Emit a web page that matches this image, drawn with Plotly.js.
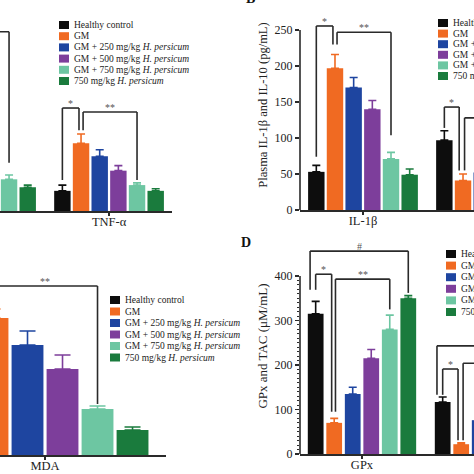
<!DOCTYPE html>
<html><head><meta charset="utf-8">
<script src="https://cdn.plot.ly/plotly-3.0.1.min.js"></script>
<style>html,body{margin:0;padding:0;background:#fff;overflow:hidden}#chart{width:474px;height:474px}</style>
</head><body><div id="chart"></div>
<script>
// ---------- data ----------
const seriesNames = ['Healthy control', 'GM', 'GM + 250 mg/kg <i>H. persicum</i>', 'GM + 500 mg/kg <i>H. persicum</i>', 'GM + 750 mg/kg <i>H. persicum</i>', '750 mg/kg <i>H. persicum</i>'];

// Panel A (left part cropped; first group label not visible)
const categoriesA = ['(cropped)', 'TNF-α'];
const valuesA = [[null, 28], [null, 94], [null, 76], [null, 56], [44, 36], [33, 28]];
const errorsA = [[null, 8], [null, 13], [null, 9], [null, 7], [6, 3], [3, 3]];

// Panel B
const categoriesB = ['IL-1β', 'IL-10'];
const valuesB = [[53, 97], [197, 41], [170, 52], [140, null], [71, null], [49, null]];
const errorsB = [[9, 13], [19, 9], [14, 6], [12, null], [9, null], [8, null]];
const ticksB = [0, 50, 100, 150, 200, 250];

// Panel C (left part cropped)
const categoriesC = ['MDA'];
const valuesC = [[null], [13.7], [11.0], [8.6], [4.6], [2.5]];
const errorsC = [[null], [0.9], [1.4], [1.4], [0.3], [0.3]];

// Panel D
const categoriesD = ['GPx', 'TAC'];
const valuesD = [[315, 117], [70, 22], [135, 76], [215, null], [280, null], [350, null]];
const errorsD = [[28, 11], [10, 3], [15, 9], [20, null], [32, null], [6, null]];
const ticksD = [0, 100, 200, 300, 400];

// significance brackets: [cat1, series1, cat2, series2, top, leg1 bottom, leg2 bottom, label]
const bracketsA = [[0, 1, 0, 4, 249, 200, 67, ''], [1, 0, 1, 1, 143, 43, 112, '*'], [1, 1, 1, 4, 137.5, 112, 43, '**']];
const bracketsB = [[0, 0, 0, 1, 255.6, 74, 230, '*'], [0, 1, 0, 4, 247, 230, 104, '**'], [1, 0, 1, 1, 143, 114, 55, '*'], [1, 1, 1, 4, 128, 55, 60, '']];
const bracketsC = [[0, 1, 0, 4, 16.9, 15.2, 5.1, '**']];
const bracketsD = [[0, 0, 0, 5, 456, 369, 362, '#'], [0, 0, 0, 1, 404, 369, 95, '*'], [0, 1, 0, 4, 393, 95, 325, '**'], [1, 0, 1, 5, 243, 133, 300, ''], [1, 0, 1, 1, 191, 133, 31, '*'], [1, 1, 1, 4, 204, 31, 60, '']];

// ---------- styling ----------
const colors = ['#0d0d0d', '#f06a22', '#1e45a0', '#7d3e9b', '#6dc6a2', '#1a7b3d'];
const FONT = 'Liberation Serif, Times New Roman, serif';
const W = 474, H = 474;
const px = v => v / W, py = v => 1 - v / H;
const GROUP = 0.875, SLOT = GROUP / 6;
const center = (cat, s) => cat - GROUP / 2 + SLOT * (s + 0.5);

const traces = [];
function addPanel(cats, vals, errs, xa, ya, gap, capW) {
  for (let s = 0; s < 6; s++) {
    traces.push({
      type: 'bar', x: cats, y: vals[s], xaxis: xa, yaxis: ya, name: seriesNames[s],
      width: SLOT * (1 - gap), offset: -GROUP / 2 + SLOT * s + SLOT * gap / 2,
      marker: {color: colors[s], line: {width: 0}},
      error_y: {type: 'data', symmetric: false, array: errs[s], arrayminus: errs[s].map(() => 0),
        color: colors[s], thickness: 1.6, width: capW},
      showlegend: false, hoverinfo: 'skip'
    });
  }
}
addPanel(categoriesA, valuesA, errorsA, 'x', 'y', 0.12, 4);
addPanel(categoriesB, valuesB, errorsB, 'x2', 'y2', 0.12, 4);
addPanel(categoriesC, valuesC, errorsC, 'x3', 'y3', 0.09, 8);
addPanel(categoriesD, valuesD, errorsD, 'x4', 'y4', 0.15, 4);

const shapes = [], annotations = [];
const LINE = {color: '#2a2a2a', width: 1.6};
function addBrackets(list, xa, ya, legShift) {
  list.forEach((b, k) => {
    const [c1, s1, c2, s2, top, b1, b2, label] = b;
    const x1 = center(c1, s1) + legShift[k][0];
    const x2 = center(c2, s2) + legShift[k][1];
    shapes.push({type: 'line', xref: xa, yref: ya, x0: x1, x1: x1, y0: b1, y1: top, line: LINE});
    shapes.push({type: 'line', xref: xa, yref: ya, x0: x1, x1: x2, y0: top, y1: top, line: LINE});
    shapes.push({type: 'line', xref: xa, yref: ya, x0: x2, x1: x2, y0: top, y1: b2, line: LINE});
    if (label) annotations.push({xref: xa, yref: ya, x: (x1 + x2) / 2, y: top, text: label, showarrow: false,
      yanchor: 'bottom', yshift: -3, font: {family: FONT, size: 10, color: '#555'}});
  });
}
addBrackets(bracketsA, 'x', 'y', [[0, 0], [0, -0.016], [0.016, 0]]);
addBrackets(bracketsB, 'x2', 'y2', [[0, -0.016], [0.016, 0], [0, -0.03], [0.012, 0]]);
addBrackets(bracketsC, 'x3', 'y3', [[0, 0]]);
addBrackets(bracketsD, 'x4', 'y4', [[-0.044, 0], [0, -0.02], [0.01, 0], [-0.045, 0], [0, -0.025], [0.015, 0]]);

// y-axis lines that stop at the top tick
shapes.push({type: 'line', xref: 'x2 domain', yref: 'y2', x0: 0, x1: 0, y0: 0, y1: ticksB[ticksB.length - 1], line: LINE});
shapes.push({type: 'line', xref: 'x4 domain', yref: 'y4', x0: 0, x1: 0, y0: 0, y1: ticksD[ticksD.length - 1], line: LINE});

// hand-drawn legends (compact Prism-style spacing)
function addLegend(left, firstY, step) {
  for (let s = 0; s < 6; s++) {
    const cy = firstY + step * s;
    shapes.push({type: 'rect', xref: 'paper', yref: 'paper', x0: px(left), x1: px(left + 10),
      y0: py(cy + 4), y1: py(cy - 4), fillcolor: colors[s], line: {width: 0}});
    annotations.push({xref: 'paper', yref: 'paper', x: px(left + 13), y: py(cy), xanchor: 'left', yanchor: 'middle',
      text: seriesNames[s], showarrow: false, font: {family: FONT, size: 9.5, color: '#222'}});
  }
}
addLegend(59, 25, 11.2);
addLegend(438, 23, 10.6);
addLegend(110, 300, 11.5);
addLegend(446, 254, 11.6);

// panel letters
annotations.push({xref: 'paper', yref: 'paper', x: px(250), y: py(8), yanchor: 'bottom', text: '<b>B</b>', showarrow: false, font: {family: FONT, size: 14, color: '#111'}});
annotations.push({xref: 'paper', yref: 'paper', x: px(246), y: py(243), yanchor: 'middle', text: '<b>D</b>', showarrow: false, font: {family: FONT, size: 14, color: '#111'}});

const tickFont = {family: FONT, size: 12, color: '#222'};
const xBase = {type: 'category', showline: true, linecolor: '#2a2a2a', linewidth: 1.6, ticks: 'outside', ticklen: 3,
  tickwidth: 1.5, tickcolor: '#2a2a2a', ticklabelstandoff: -5, tickfont: {family: FONT, size: 12.5, color: '#222'},
  showgrid: false, zeroline: false, fixedrange: true};
const yHidden = {visible: false, showgrid: false, zeroline: false, fixedrange: true};
const minorD = []; for (let v = 10; v < 400; v += 10) if (v % 100) minorD.push(v);

const layout = {
  width: W, height: H, margin: {l: 0, r: 0, t: 0, b: 0, autoexpand: false},
  paper_bgcolor: '#fff', plot_bgcolor: 'rgba(0,0,0,0)', barmode: 'overlay', showlegend: false,
  font: {family: FONT, color: '#222'},
  xaxis: Object.assign({}, xBase, {domain: [0, px(172)], anchor: 'y', range: [0.148, 1.492]}),
  yaxis: Object.assign({}, yHidden, {domain: [py(211), 1], anchor: 'x', range: [0, 293]}),
  xaxis2: Object.assign({}, xBase, {domain: [px(300), 1], anchor: 'y2', range: [-0.492, 0.867]}),
  yaxis2: {domain: [py(210), 1], anchor: 'x2', range: [0, 291.7], tickmode: 'array', tickvals: ticksB,
    ticks: 'outside', ticklen: 4, tickwidth: 1.5, tickcolor: '#2a2a2a', tickfont: tickFont, showline: false,
    showgrid: false, zeroline: false, fixedrange: true,
    title: {text: 'Plasma IL-1β and IL-10 (pg/mL)', font: {family: FONT, size: 12.5, color: '#222'}, standoff: 4}},
  xaxis3: Object.assign({}, xBase, {domain: [0, px(166)], anchor: 'y3', range: [-0.1875, 0.504]}),
  yaxis3: Object.assign({}, yHidden, {domain: [py(455), py(240)], anchor: 'x3', range: [0, 21.5]}),
  xaxis4: Object.assign({}, xBase, {domain: [px(300), 1], anchor: 'y4', range: [-0.488, 0.882]}),
  yaxis4: {domain: [py(454), py(238)], anchor: 'x4', range: [0, 485.4], tickmode: 'array', tickvals: ticksD,
    ticks: 'outside', ticklen: 4, tickwidth: 1.5, tickcolor: '#2a2a2a', tickfont: tickFont, showline: false,
    minor: {tickmode: 'array', tickvals: minorD, ticks: 'outside', ticklen: 2, tickwidth: 1, tickcolor: '#2a2a2a'},
    showgrid: false, zeroline: false, fixedrange: true,
    title: {text: 'GPx and TAC (μM/mL)', font: {family: FONT, size: 13, color: '#222'}, standoff: 4}},
  shapes: shapes, annotations: annotations
};
Plotly.newPlot('chart', traces, layout, {staticPlot: true, displayModeBar: false});
</script>
</body></html>
